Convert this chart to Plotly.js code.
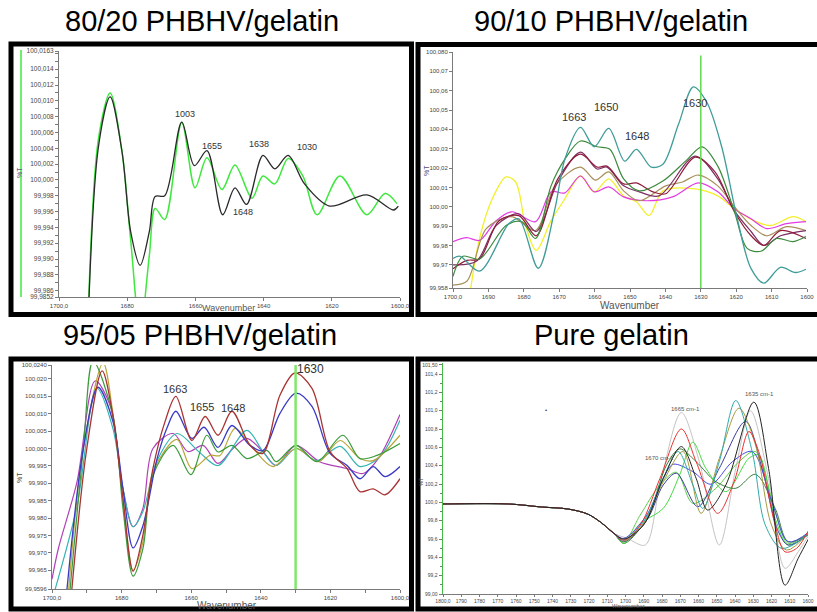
<!DOCTYPE html>
<html><head><meta charset="utf-8">
<script src="https://cdn.plot.ly/plotly-3.0.1.min.js"></script>
<style>html,body{margin:0;padding:0;background:#fff;}#chart{width:817px;height:612px;}</style>
</head><body><div id="chart"></div>
<script>
// ---------- DATA ----------
// Panel titles
const panelTitles = ["80/20 PHBHV/gelatin", "90/10 PHBHV/gelatin", "95/05 PHBHV/gelatin", "Pure gelatin"];

// Panel 1 (80/20)
const p1XTickVals = [1700, 1680, 1660, 1640, 1620, 1600];
const p1XTickText = ["1700,0", "1680", "1660", "1640", "1620", "1600,0"];
const p1YTickVals = [100.0163, 100.014, 100.012, 100.010, 100.008, 100.006, 100.004, 100.002, 100.000, 99.998, 99.996, 99.994, 99.992, 99.990, 99.988, 99.986, 99.9852];
const p1YTickText = ["100,0163", "100,014", "100,012", "100,010", "100,008", "100,006", "100,004", "100,002", "100,000", "99,998", "99,996", "99,994", "99,992", "99,990", "99,988", "99,986", "99,9852"];
const p1Green_w = [1692, 1688.5, 1685, 1681.5, 1679, 1676.2, 1673.5, 1671.8, 1669, 1664, 1660.1, 1656.6, 1652.2, 1648.4, 1643.4, 1640.2, 1636.7, 1632.8, 1628.5, 1624.3, 1617.6, 1609.7, 1604.4, 1600.9];
const p1Green_t = [99.975, 100.005, 100.0110, 100.0035, 99.9925, 99.981, 99.9905, 99.9964, 99.9950, 100.0073, 99.9990, 100.0028, 99.9988, 100.0019, 99.9977, 100.0005, 99.9995, 100.0027, 100.0005, 99.9956, 100.0005, 99.9956, 99.9983, 99.9970];
const p1Black_w = [1692, 1688.5, 1685, 1681.5, 1679, 1676.2, 1673.5, 1671.8, 1669, 1664, 1660.3, 1656.6, 1652, 1648.4, 1645, 1640.2, 1636.7, 1632.8, 1628, 1620.7, 1609.7, 1601.9, 1600.5];
const p1Black_t = [99.975, 100.004, 100.0105, 100.0035, 99.9935, 99.9892, 99.9935, 99.9979, 99.9980, 100.0073, 100.0018, 100.0037, 99.9956, 99.9990, 99.9969, 100.0031, 100.0014, 100.0031, 99.9995, 99.9967, 99.9981, 99.9962, 99.9967];
const p1PeakLabels = ["1003", "1655", "1638", "1030", "1648"];

// Panel 2 (90/10)
const p2XTickVals = [1700, 1690, 1680, 1670, 1660, 1650, 1640, 1630, 1620, 1610, 1600];
const p2XTickText = ["1700,0", "1690", "1680", "1670", "1660", "1650", "1640", "1630", "1620", "1610", "1600"];
const p2YTickVals = [100.080, 100.07, 100.06, 100.05, 100.04, 100.03, 100.02, 100.01, 100.00, 99.99, 99.98, 99.97, 99.958];
const p2YTickText = ["100,080", "100,07", "100,06", "100,05", "100,04", "100,03", "100,02", "100,01", "100,00", "99,99", "99,98", "99,97", "99,958"];
const p2Teal_w = [1700, 1698, 1692.5, 1684.2, 1681.4, 1675.9, 1671.2, 1668.4, 1664, 1660.1, 1656, 1651.5, 1648.2, 1644, 1640.7, 1636.3, 1632.1, 1628.3, 1624.1, 1619.7, 1615.8, 1612.2, 1607.5, 1603.3, 1600.3];
const p2Teal_t = [99.9733, 99.9744, 99.9667, 99.9913, 99.9938, 99.9682, 99.999, 100.0246, 100.041, 100.031, 100.0405, 100.0236, 100.0297, 100.0205, 100.022, 100.0426, 100.062, 100.054, 100.031, 99.9938, 99.968, 99.9605, 99.9687, 99.966, 99.9677];
const p2Green_w = [1700, 1697.2, 1692.5, 1685, 1680.6, 1676.7, 1672.3, 1668.4, 1664, 1659.3, 1655.7, 1651.8, 1647.4, 1640.7, 1634.3, 1629.6, 1625.2, 1620.5, 1616.9, 1613, 1608.6, 1603.9, 1600.3];
const p2Green_t = [99.964, 99.9744, 99.973, 99.9903, 99.9923, 99.9836, 100.0108, 100.0246, 100.034, 100.031, 100.0297, 100.0144, 100.0082, 100.0133, 100.0236, 100.031, 100.021, 99.9974, 99.9785, 99.977, 99.9836, 99.982, 99.9846];
const p2Maroon_w = [1700, 1696.1, 1692.5, 1687, 1681.4, 1676.5, 1670.4, 1664, 1659.3, 1656.5, 1651.8, 1648.2, 1643.5, 1639.9, 1631.6, 1626, 1620.5, 1615.8, 1612.2, 1607.5, 1600.3];
const p2Maroon_t = [99.968, 99.9723, 99.973, 99.9928, 99.9954, 99.985, 100.0144, 100.0272, 100.0205, 100.021, 100.0118, 100.0123, 100.0077, 100.0067, 100.0256, 100.018, 99.9974, 99.985, 99.98, 99.9877, 99.9836];
const p2Plum_w = [1700, 1693.4, 1687.8, 1681.4, 1676.5, 1670.4, 1664, 1659.3, 1656.5, 1651.8, 1647.4, 1641.8, 1631.6, 1625.2, 1620.5, 1615.8, 1612.2, 1607.5, 1600.3];
const p2Plum_t = [99.970, 99.9718, 99.9903, 99.9964, 99.9872, 100.0128, 100.0282, 100.0195, 100.0205, 100.0108, 100.0077, 100.0056, 100.0262, 100.0144, 99.998, 99.9872, 99.98, 99.985, 99.9877];
const p2Olive_w = [1700, 1696.1, 1690.6, 1683.4, 1676.7, 1671.2, 1664, 1659.8, 1656, 1651.8, 1647.4, 1639.9, 1635.2, 1630.7, 1625.2, 1620.5, 1615.8, 1611.4, 1605.8, 1600.3];
const p2Olive_t = [99.9595, 99.9615, 99.9887, 99.9949, 99.9877, 100.0108, 100.0205, 100.0138, 100.018, 100.0082, 100.0031, 100.0108, 100.0128, 100.0164, 100.0108, 100.000, 99.9903, 99.985, 99.9897, 99.9877];
const p2Magenta_w = [1700, 1696.1, 1692.5, 1687.8, 1683.4, 1676.7, 1672.3, 1668.4, 1664, 1660.1, 1656, 1651.8, 1645.4, 1638, 1630.7, 1625.2, 1620.5, 1615.8, 1611.4, 1605.8, 1600.3];
const p2Magenta_t = [99.982, 99.984, 99.9826, 99.9928, 99.9974, 99.9923, 100.0077, 100.0072, 100.0159, 100.0077, 100.0103, 100.0051, 100.0031, 100.0051, 100.0123, 100.0077, 99.999, 99.9938, 99.9887, 99.9913, 99.9923];
const p2Yellow_w = [1695.3, 1692.5, 1688.9, 1685, 1682.3, 1679.5, 1676.5, 1672.3, 1668.4, 1664, 1660.1, 1656, 1651.8, 1648.2, 1644.6, 1640.7, 1631.6, 1625.2, 1620.5, 1615, 1610.3, 1603.9, 1600.3];
const p2Yellow_t = [99.954, 99.9836, 100.0041, 100.0154, 100.0128, 99.9903, 99.9774, 99.9928, 100.0041, 100.0159, 100.0077, 100.0144, 100.0056, 100.0026, 99.9954, 100.0082, 100.0092, 100.0056, 99.999, 99.9928, 99.9903, 99.9949, 99.9923];
const p2PeakLabels = ["1663", "1650", "1648", "1630"];

// Panel 3 (95/05)
const p3XTickVals = [1700, 1680, 1660, 1640, 1620, 1600];
const p3XTickText = ["1700,0", "1680", "1660", "1640", "1620", "1600,0"];
const p3YTickVals = [100.0240, 100.020, 100.015, 100.010, 100.005, 100.000, 99.995, 99.990, 99.985, 99.980, 99.975, 99.970, 99.965, 99.9596];
const p3YTickText = ["100,0240", "100,020", "100,015", "100,010", "100,005", "100,000", "99,995", "99,990", "99,985", "99,980", "99,975", "99,970", "99,965", "99,9596"];
const p3Red_w = [1694.3, 1690, 1685.6, 1682.5, 1679.6, 1676.7, 1673.9, 1671, 1667.5, 1664.4, 1659.8, 1656, 1652.3, 1648.3, 1643.1, 1639.4, 1634.5, 1630.2, 1625.3, 1620.1, 1615.2, 1611.5, 1607.7, 1604.3, 1600];
const p3Red_t = [99.9595, 100.000, 100.0223, 100.0095, 99.9855, 99.9647, 99.975, 99.9942, 100.0078, 100.015, 100.0023, 100.0092, 100.0038, 100.0107, 100.0009, 99.9986, 100.0153, 100.0217, 100.0173, 99.9991, 99.9942, 99.9876, 99.9884, 99.9867, 99.9913];
const p3Blue_w = [1695.7, 1691, 1686.8, 1682.5, 1679.6, 1676.7, 1673.9, 1669.8, 1667, 1664.4, 1659.8, 1656.3, 1652.3, 1648.3, 1643.1, 1639.4, 1634.5, 1629.9, 1625.3, 1620.1, 1615.2, 1611.5, 1607.7, 1604.3, 1600];
const p3Blue_t = [99.9595, 100.000, 100.0176, 100.0078, 99.9884, 99.9714, 99.9777, 99.9971, 100.0058, 100.0107, 100.0029, 100.0061, 100.0003, 100.0066, 100.0009, 99.9994, 100.0101, 100.0159, 100.0121, 99.9986, 99.9951, 99.9913, 99.9948, 99.9919, 99.9948];
const p3Cyan_w = [1699.1, 1692.8, 1687.1, 1682.5, 1679.6, 1676.7, 1673.9, 1669.8, 1664.1, 1657.5, 1652.3, 1644, 1639.4, 1635.6, 1629.9, 1623.9, 1617.2, 1611.5, 1605.7, 1600];
const p3Cyan_t = [99.9595, 99.9835, 100.0173, 100.0058, 99.9884, 99.9775, 99.9818, 99.9965, 100.0043, 99.9988, 99.9951, 100.0052, 99.9991, 99.9951, 100.000, 99.9965, 100.0006, 99.9948, 99.9977, 100.0081];
const p3Green_w = [1694.8, 1691, 1688.2, 1682.5, 1679.6, 1676.7, 1673.9, 1671, 1665.2, 1660.1, 1655.5, 1652.3, 1648.3, 1644, 1638.2, 1635.6, 1629.9, 1623.9, 1616.4, 1611.5, 1606.6, 1600];
const p3Green_t = [99.9595, 100.000, 100.0251, 100.0095, 99.9827, 99.9633, 99.9711, 99.9922, 100.0009, 99.9925, 100.0038, 99.999, 100.0009, 99.9971, 99.9994, 99.9962, 100.0009, 99.9962, 100.0038, 99.9971, 99.998, 100.0014];
const p3Olive_w = [1695.2, 1691, 1685.3, 1682.5, 1679.6, 1676.7, 1673.9, 1671, 1664.1, 1659.8, 1654.6, 1651.7, 1647.4, 1642.2, 1636.5, 1629.9, 1623.4, 1617.2, 1611.5, 1607.7, 1600];
const p3Olive_t = [99.9595, 100.000, 100.0246, 100.0101, 99.9855, 99.965, 99.973, 99.9932, 100.0026, 99.9942, 99.998, 99.998, 100.0058, 100.000, 99.9948, 100.000, 99.9962, 100.0023, 99.9971, 99.9965, 100.0038];
const p3Purple_w = [1700, 1698.2, 1692.8, 1687.6, 1683.3, 1679.6, 1676.7, 1673.9, 1671, 1665.2, 1660.9, 1656.6, 1652.3, 1648, 1644, 1639.4, 1635.6, 1629.9, 1623.1, 1615.2, 1610.6, 1606.3, 1600];
const p3Purple_t = [99.9624, 99.9711, 99.9905, 100.0194, 100.0124, 99.9884, 99.9775, 99.9827, 100.000, 100.0043, 99.9991, 100.0009, 99.9957, 100.000, 100.0029, 99.9991, 99.9951, 100.0009, 99.9962, 99.9942, 99.9928, 99.997, 100.0098];
const p3PeakLabels = ["1663", "1655", "1648", "1630"];

// Panel 4 (pure gelatin)
const p4XTickVals = [1800, 1790, 1780, 1770, 1760, 1750, 1740, 1730, 1720, 1710, 1700, 1690, 1680, 1670, 1660, 1650, 1640, 1630, 1620, 1610, 1600];
const p4XTickText = ["1800,0", "1790", "1780", "1770", "1760", "1750", "1740", "1730", "1720", "1710", "1700", "1690", "1680", "1670", "1660", "1650", "1640", "1630", "1620", "1610", "1600"];
const p4YTickVals = [101.5, 101.4, 101.2, 101.0, 100.8, 100.6, 100.4, 100.2, 100.0, 99.8, 99.6, 99.4, 99.2, 99.0];
const p4YTickText = ["101,50", "101,4", "101,2", "101,0", "100,8", "100,6", "100,4", "100,2", "100,0", "99,8", "99,6", "99,4", "99,2", "99,00"];
const p4Common_w = [1800, 1764, 1746, 1731.5, 1720.7, 1713.5, 1706.3];
const p4Common_t = [99.982, 99.982, 99.949, 99.927, 99.872, 99.781, 99.661];
const p4Gray_w = [1699, 1689.2, 1681.1, 1669.4, 1659.5, 1648.6, 1639.6, 1631.5, 1621.6, 1612.6, 1605.4, 1599.1];
const p4Gray_t = [99.607, 99.534, 100.19, 100.98, 100.44, 99.534, 100.37, 101.0, 100.26, 99.28, 99.46, 99.66];
const p4Red_w = [1700.9, 1691.9, 1681.1, 1669.4, 1661.3, 1649.5, 1640.5, 1632.4, 1627, 1618, 1612.6, 1606.3, 1599.1];
const p4Red_t = [99.588, 99.752, 100.262, 100.80, 100.444, 99.88, 100.226, 100.772, 100.554, 99.752, 99.46, 99.497, 99.716];
const p4Lime_w = [1700.9, 1691.9, 1679.3, 1670.3, 1663.1, 1655.9, 1645, 1632.4, 1627, 1618, 1610.8, 1599.1];
const p4Lime_t = [99.552, 99.77, 99.934, 100.30, 100.656, 100.37, 100.117, 100.48, 100.517, 99.825, 99.534, 99.66];
const p4Lime2_w = [1700.9, 1691.9, 1681.1, 1672.1, 1663.1, 1650.5, 1637.8, 1628.8, 1618, 1610.8, 1599.1];
const p4Lime2_t = [99.57, 99.862, 100.19, 100.328, 99.989, 100.153, 100.444, 100.554, 99.898, 99.552, 99.68];
const p4DarkGreen_w = [1700.9, 1688.3, 1677.5, 1670.3, 1661.3, 1650.5, 1639.6, 1628.8, 1618, 1610.8, 1599.1];
const p4DarkGreen_t = [99.552, 99.825, 100.408, 100.583, 100.444, 100.226, 100.153, 100.306, 99.934, 99.57, 99.66];
const p4Black_w = [1700.9, 1690.1, 1679.3, 1669.4, 1661.3, 1655, 1645, 1629.7, 1621.6, 1612.6, 1605.4, 1599.1];
const p4Black_t = [99.6, 99.752, 100.262, 100.608, 100.262, 99.916, 100.19, 101.093, 100.37, 99.097, 99.388, 99.625];
const p4Teal_w = [1700.9, 1690.1, 1679.3, 1671.2, 1663.1, 1657.7, 1648.6, 1639.6, 1630.6, 1623.4, 1614.4, 1599.1];
const p4Teal_t = [99.588, 99.789, 100.262, 100.554, 100.19, 99.934, 100.444, 101.111, 100.554, 99.752, 99.497, 99.66];
const p4Olive_w = [1700.9, 1690.1, 1679.3, 1668.5, 1658.6, 1648.6, 1637.8, 1628.8, 1620, 1611.7, 1599.1];
const p4Olive_t = [99.577, 99.77, 100.226, 100.554, 99.88, 100.48, 101.027, 100.627, 99.752, 99.479, 99.68];
const p4Blue_w = [1700.9, 1688.3, 1679.3, 1673.9, 1663.1, 1653.2, 1641.4, 1630.6, 1619.8, 1610.8, 1599.1];
const p4Blue_t = [99.607, 99.862, 100.262, 100.415, 100.335, 100.197, 100.444, 100.554, 100.007, 99.57, 99.68];
const p4Navy_w = [1700.9, 1688.3, 1679.3, 1672.1, 1660.4, 1648.6, 1634.2, 1625.2, 1616.2, 1610.8, 1599.1];
const p4Navy_t = [99.57, 99.807, 100.19, 100.317, 99.953, 100.372, 100.882, 100.372, 99.679, 99.534, 99.66];
const p4PeakLabels = ["1665 cm-1", "1635 cm-1", "1670 cm-1"];

// ---------- DRAWING ----------
const W = 817, H = 612;
const PX = p => p / W;
const PY = p => 1 - p / H;
const FONT = 'Liberation Sans, Arial, sans-serif';

const traces = [];
function addLine(w, t, color, width, xa, ya) {
  traces.push({type: 'scatter', mode: 'lines', x: w, y: t, xaxis: xa, yaxis: ya,
    line: {color: color, width: width, shape: 'spline', smoothing: 0.9}, hoverinfo: 'skip', showlegend: false});
}
// Panel 1
addLine(p1Green_w, p1Green_t, '#3ee83e', 1.5, 'x', 'y');
addLine(p1Black_w, p1Black_t, '#2a2a2a', 1.3, 'x', 'y');
// Panel 2
addLine(p2Yellow_w, p2Yellow_t, '#f2f02a', 1.3, 'x2', 'y2');
addLine(p2Magenta_w, p2Magenta_t, '#e23ce2', 1.2, 'x2', 'y2');
addLine(p2Olive_w, p2Olive_t, '#a8905a', 1.2, 'x2', 'y2');
addLine(p2Plum_w, p2Plum_t, '#7c2f62', 1.2, 'x2', 'y2');
addLine(p2Maroon_w, p2Maroon_t, '#8e1c3a', 1.2, 'x2', 'y2');
addLine(p2Green_w, p2Green_t, '#3c8a3c', 1.2, 'x2', 'y2');
addLine(p2Teal_w, p2Teal_t, '#3f9c98', 1.3, 'x2', 'y2');
// Panel 3
addLine(p3Purple_w, p3Purple_t, '#b040b8', 1.2, 'x3', 'y3');
addLine(p3Cyan_w, p3Cyan_t, '#36b4b4', 1.2, 'x3', 'y3');
addLine(p3Olive_w, p3Olive_t, '#b8a63a', 1.2, 'x3', 'y3');
addLine(p3Green_w, p3Green_t, '#3a9c3a', 1.2, 'x3', 'y3');
addLine(p3Blue_w, p3Blue_t, '#3a3ac4', 1.3, 'x3', 'y3');
addLine(p3Red_w, p3Red_t, '#a83434', 1.3, 'x3', 'y3');
// Panel 4
const p4Series = [
  [p4Gray_w, p4Gray_t, '#c4c4c4'], [p4Lime2_w, p4Lime2_t, '#5ccc48'], [p4DarkGreen_w, p4DarkGreen_t, '#3b7d3b'],
  [p4Lime_w, p4Lime_t, '#40dc40'], [p4Navy_w, p4Navy_t, '#3a3a98'], [p4Blue_w, p4Blue_t, '#4a4ae0'],
  [p4Olive_w, p4Olive_t, '#a89a40'], [p4Teal_w, p4Teal_t, '#30aaaa'], [p4Red_w, p4Red_t, '#ea3030'],
  [p4Black_w, p4Black_t, '#222222']
];
p4Series.forEach(s => addLine(p4Common_w.concat(s[0]), p4Common_t.concat(s[1]), s[2], 1, 'x4', 'y4'));

function axis(domain, range, anchor, vals, text, fontSize, extra) {
  return Object.assign({
    domain: domain, range: range, anchor: anchor, autorange: false,
    tickmode: 'array', tickvals: vals, ticktext: text,
    showgrid: false, zeroline: false, showline: true, linecolor: '#7a7a7a', linewidth: 1,
    ticks: 'outside', ticklen: 3, tickcolor: '#7a7a7a', tickwidth: 1, ticklabeloverflow: 'allow',
    tickfont: {family: FONT, size: fontSize, color: '#444'}, fixedrange: true
  }, extra || {});
}

const layout = {
  width: W, height: H, margin: {l: 0, r: 0, t: 0, b: 0},
  paper_bgcolor: '#fff', plot_bgcolor: '#fff', showlegend: false,
  font: {family: FONT},
  xaxis: axis([PX(59), PX(400)], [1700, 1600], 'y', p1XTickVals, p1XTickText, 6),
  yaxis: axis([PY(297), PY(51)], [99.9852, 100.0163], 'x', p1YTickVals, p1YTickText, 6.5,
    {minor: {dtick: 0.001, tick0: 100, ticks: 'outside', ticklen: 3, tickcolor: '#7a7a7a'}}),
  xaxis2: axis([PX(453), PX(807)], [1700, 1600], 'y2', p2XTickVals, p2XTickText, 6),
  yaxis2: axis([PY(288), PY(52)], [99.958, 100.080], 'x2', p2YTickVals, p2YTickText, 6),
  xaxis3: axis([PX(52), PX(400)], [1700, 1600], 'y3', p3XTickVals, p3XTickText, 6,
    {minor: {dtick: 10, tick0: 1600, ticks: 'outside', ticklen: 3, tickcolor: '#7a7a7a'}}),
  yaxis3: axis([PY(589), PY(365)], [99.9596, 100.0240], 'x3', p3YTickVals, p3YTickText, 6),
  xaxis4: axis([PX(443), PX(808)], [1800, 1600], 'y4', p4XTickVals, p4XTickText, 5, {ticklen: 2}),
  yaxis4: axis([PY(594), PY(363)], [99.0, 101.52], 'x4', p4YTickVals, p4YTickText, 5,
    {linecolor: '#44bb44', linewidth: 1.5, minor: {dtick: 0.1, tick0: 99, ticks: 'outside', ticklen: 2, tickcolor: '#7a7a7a'}}),
  shapes: [], annotations: []
};

// frames
const frames = [[11, 44, 411.5, 314.5], [418, 44.5, 822, 314.5], [11, 359, 411.5, 609], [418, 359, 822, 609]];
frames.forEach(f => layout.shapes.push({type: 'rect', xref: 'paper', yref: 'paper',
  x0: PX(f[0]), x1: PX(f[2]), y0: PY(f[3]), y1: PY(f[1]), line: {color: '#000', width: 5}, fillcolor: 'rgba(0,0,0,0)'}));
// green marker lines
layout.shapes.push({type: 'line', xref: 'paper', yref: 'paper', x0: PX(21), x1: PX(21), y0: PY(297), y1: PY(50), line: {color: '#3ee83e', width: 1.5}});
layout.shapes.push({type: 'line', xref: 'x2', yref: 'y2 domain', x0: 1630, x1: 1630, y0: 0, y1: 0.985, line: {color: '#5fdc4a', width: 1.5}});
layout.shapes.push({type: 'line', xref: 'x3', yref: 'y3 domain', x0: 1630, x1: 1630, y0: 0, y1: 1, line: {color: '#7fe86a', width: 2.5}});

function ann(text, x, y, size, color, extra) {
  layout.annotations.push(Object.assign({text: text, xref: 'paper', yref: 'paper', x: PX(x), y: PY(y),
    xanchor: 'center', yanchor: 'middle', showarrow: false, font: {family: FONT, size: size, color: color}}, extra || {}));
}
// titles
ann(panelTitles[0], 202, 21, 29, '#000');
ann(panelTitles[1], 611, 21, 29, '#000');
ann(panelTitles[2], 200, 335, 29, '#000');
ann(panelTitles[3], 611, 335, 29, '#000');
// axis titles
ann('Wavenumber', 228, 308, 9, '#555');
ann('Wavenumber', 630, 305, 10, '#555');
ann('Wavenumber', 227, 605, 10, '#555');
ann('Wavenumber', 628, 606, 5.5, '#555');
ann('%T', 19, 173, 7, '#6a4a8a', {textangle: -90});
ann('%T', 426, 170, 7, '#5a4a7a', {textangle: -90});
ann('%T', 19, 478, 7, '#444', {textangle: -90});
ann('%T', 421, 482, 5.5, '#444', {textangle: -90});
// peak labels
const p1Pos = [[185, 114], [212, 146], [259, 144], [307, 147], [243, 212]];
p1PeakLabels.forEach((s, i) => ann(s, p1Pos[i][0], p1Pos[i][1], 9, '#333'));
const p2Pos = [[574, 117], [606, 107], [637, 136], [695, 103]];
p2PeakLabels.forEach((s, i) => ann(s, p2Pos[i][0], p2Pos[i][1], 11, '#333'));
const p3Pos = [[175, 389], [202, 407], [233, 408], [310, 369]];
p3PeakLabels.forEach((s, i) => ann(s, p3Pos[i][0], p3Pos[i][1], i === 3 ? 12 : 11, '#333'));
const p4Pos = [[685, 409], [759, 394], [659, 458]];
p4PeakLabels.forEach((s, i) => ann(s, p4Pos[i][0], p4Pos[i][1], 6, '#555'));
ann('•', 546, 410, 6, '#333');

Plotly.newPlot('chart', traces, layout, {staticPlot: true, displayModeBar: false});
</script></body></html>
